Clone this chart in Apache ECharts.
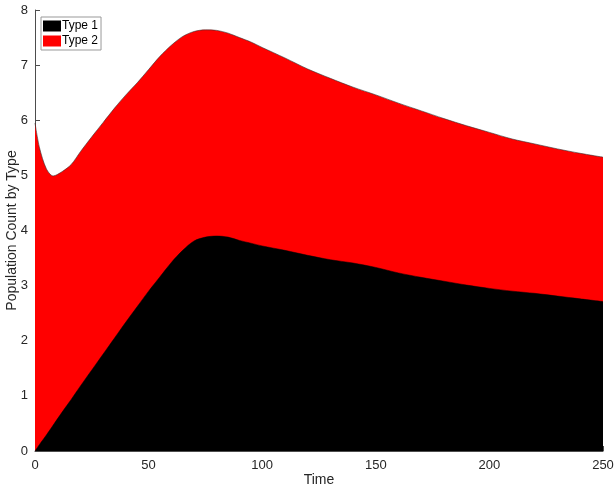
<!DOCTYPE html>
<html>
<head>
<meta charset="utf-8">
<script src="https://cdn.jsdelivr.net/npm/echarts@6/dist/echarts.min.js"></script>
<style>
html, body { margin: 0; padding: 0; background: #fff; }
#main { width: 614px; height: 487px; }
</style>
</head>
<body>
<div id="main"></div>
<script>
var times = [0, 2, 5, 8, 12, 16, 20, 25, 30, 35, 40, 45, 50, 55, 60, 65, 70, 75, 80, 85, 90, 95, 100,
    110, 120, 130, 140, 150, 160, 170, 180, 190, 200, 210, 220, 230, 240, 250];
var type1 = [0, 0.12, 0.29, 0.47, 0.71, 0.94, 1.18, 1.47, 1.76, 2.05, 2.34, 2.62, 2.90, 3.16, 3.42, 3.64, 3.81, 3.88, 3.90, 3.88, 3.82, 3.77, 3.72,
    3.64, 3.55, 3.47, 3.41, 3.33, 3.23, 3.15, 3.08, 3.01, 2.95, 2.90, 2.86, 2.81, 2.76, 2.71];
var type2 = [5.95, 5.38, 4.83, 4.52, 4.36, 4.26, 4.25, 4.23, 4.20, 4.17, 4.12, 4.06, 4.02, 4.00, 3.94, 3.88, 3.80, 3.76, 3.73, 3.70, 3.68, 3.65, 3.60,
    3.49, 3.38, 3.29, 3.19, 3.13, 3.08, 3.02, 2.95, 2.89, 2.83, 2.76, 2.71, 2.67, 2.64, 2.62];
var seriesNames = ['Type 1', 'Type 2'];

// type 1 sits at the bottom, type 2 is stacked on it
var bottomPts = [];
var topPts = [];
for (var i = 0; i < times.length; i++) {
    bottomPts.push([times[i], type1[i]]);
    topPts.push([times[i], +(type1[i] + type2[i]).toFixed(3)]);
}

var chart = echarts.init(document.getElementById('main'));
var axisColor = '#4d4d4d';
var textColor = '#262626';
var font = 'Liberation Sans';

var option = {
    animation: false,
    textStyle: { fontFamily: font },
    grid: { left: 35, right: 11, top: 10, bottom: 36, outerBoundsMode: 'none', containLabel: false },
    legend: {
        left: 41,
        top: 17,
        orient: 'vertical',
        data: seriesNames,
        itemWidth: 18,
        itemHeight: 11,
        itemGap: 3,
        padding: [3, 3, 3, 2],
        borderColor: '#999',
        borderWidth: 1,
        backgroundColor: '#fff',
        icon: 'rect',
        textStyle: { color: '#000', fontSize: 12, fontFamily: font, padding: [0, 0, 0, -4] }
    },
    xAxis: {
        type: 'value',
        min: 0,
        max: 250,
        interval: 50,
        name: 'Time',
        nameLocation: 'middle',
        nameGap: 22,
        nameMoveOverlap: false,
        nameTextStyle: { color: textColor, fontSize: 14, fontFamily: font },
        axisLine: { lineStyle: { color: axisColor, width: 1 } },
        axisTick: { inside: true, length: 5, lineStyle: { color: axisColor } },
        axisLabel: { color: textColor, fontSize: 13, margin: 8, fontFamily: font },
        splitLine: { show: false }
    },
    yAxis: {
        type: 'value',
        min: 0,
        max: 8,
        interval: 1,
        name: 'Population Count by Type',
        nameLocation: 'middle',
        nameGap: 16,
        nameMoveOverlap: false,
        nameTextStyle: { color: textColor, fontSize: 14, fontFamily: font },
        axisLine: { show: true, lineStyle: { color: axisColor, width: 1 } },
        axisTick: { show: true, inside: true, length: 5, lineStyle: { color: axisColor } },
        axisLabel: { color: textColor, fontSize: 13, margin: 7, fontFamily: font },
        splitLine: { show: false }
    },
    series: [
        {
            name: seriesNames[1],
            type: 'line',
            z: 1,
            showSymbol: false,
            smooth: 0.3,
            itemStyle: { color: '#ff0000', borderColor: '#000' },
            lineStyle: { color: '#333', width: 0.6 },
            areaStyle: { color: '#ff0000', opacity: 1 },
            data: topPts
        },
        {
            name: seriesNames[0],
            type: 'line',
            z: 2,
            showSymbol: false,
            smooth: 0.3,
            itemStyle: { color: '#000000', borderColor: '#000' },
            lineStyle: { color: '#000', width: 0.5 },
            areaStyle: { color: '#000000', opacity: 1 },
            data: bottomPts
        }
    ]
};

chart.setOption(option);
</script>
</body>
</html>
